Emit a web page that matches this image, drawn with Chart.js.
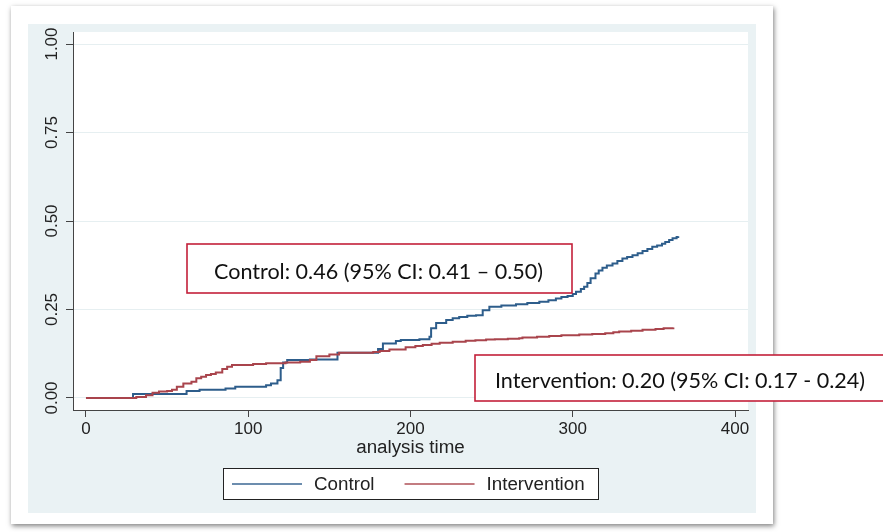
<!DOCTYPE html>
<html>
<head>
<meta charset="utf-8">
<script src="https://cdn.jsdelivr.net/npm/chart.js@4.4.1/dist/chart.umd.min.js"></script>
<style>
  html, body { margin: 0; padding: 0; background: #fff; }
  #wrap { width: 883px; height: 532px; }
</style>
</head>
<body>
<div id="wrap"><canvas id="km" width="883" height="532"></canvas></div>
<script>
// Kaplan-Meier failure curves
const seriesNames = ["Control", "Intervention"];
const controlTime = [0, 29, 62, 70, 86, 92, 111, 114, 118, 120, 121.5, 124, 138, 155, 180, 183, 191, 194, 205.5, 211.7,
  212.7, 215.8, 222, 226, 230, 235, 240.4, 244.5, 248.6, 256, 265, 272, 279.4, 285, 289.6, 293, 296.8, 300, 302, 305,
  307, 309, 311, 314, 316, 318.3, 321, 324.5, 327.5, 330.6, 333.5, 336.8, 340, 343, 346, 349, 352, 355, 357, 359.4,
  361.5, 364, 365];
const controlValue = [0, 0.011, 0.020, 0.023, 0.027, 0.032, 0.036, 0.041, 0.050, 0.085, 0.100, 0.107, 0.109, 0.128, 0.138, 0.154, 0.161, 0.164, 0.166, 0.173,
  0.197, 0.212, 0.220, 0.225, 0.229, 0.232, 0.234, 0.248, 0.258, 0.261, 0.265, 0.268, 0.272, 0.276, 0.281, 0.285, 0.288, 0.294, 0.300, 0.308,
  0.314, 0.325, 0.338, 0.352, 0.360, 0.368, 0.374, 0.380, 0.387, 0.394, 0.398, 0.403, 0.409, 0.415, 0.421, 0.427, 0.431, 0.436, 0.441, 0.446,
  0.451, 0.455, 0.457];
const interventionTime = [0, 31, 37, 41, 45, 50, 53, 56, 60, 65, 68, 71, 74, 77, 80, 84, 87, 90, 103, 111,
  123, 132, 138, 142, 150, 156, 177, 181, 187, 197, 203, 207.6, 213, 218, 226, 234, 240, 246.6, 252, 260,
  267, 269, 278, 285.5, 293, 304, 312, 320, 325, 328.6, 336, 343, 351, 356, 362];
const interventionValue = [0, 0.003, 0.008, 0.015, 0.018, 0.020, 0.023, 0.032, 0.041, 0.046, 0.056, 0.060, 0.065, 0.068, 0.072, 0.082, 0.088, 0.093, 0.096, 0.098,
  0.100, 0.102, 0.107, 0.118, 0.123, 0.128, 0.130, 0.133, 0.137, 0.143, 0.147, 0.150, 0.153, 0.156, 0.159, 0.162, 0.163, 0.165, 0.166, 0.167,
  0.169, 0.171, 0.173, 0.175, 0.177, 0.179, 0.181, 0.183, 0.186, 0.188, 0.190, 0.193, 0.195, 0.197, 0.199];
const xTicks = [0, 100, 200, 300, 400];
const yTicks = [0, 0.25, 0.5, 0.75, 1];
const yTickLabels = ["0.00", "0.25", "0.50", "0.75", "1.00"];
const xTitle = "analysis time";
const notes = ["Control: 0.46 (95% CI: 0.41 \u2013 0.50)", "Intervention: 0.20 (95% CI: 0.17 - 0.24)"];

const fontFamily = "'Liberation Sans', Arial, sans-serif";
const textFont = "18.8px " + fontFamily;

function toPoints(ts, vs) {
  return ts.map((t, i) => ({ x: t, y: vs[i] }));
}

//page frame, grey background and white plot region
const framePlugin = {
  id: "frame",
  beforeDraw(chart) {
    const ctx = chart.ctx;
    const a = chart.chartArea;
    ctx.save();
    ctx.fillStyle = "#fff";
    ctx.fillRect(0, 0, chart.width, chart.height);
    ctx.shadowColor = "rgba(0,0,0,0.5)";
    ctx.shadowBlur = 5;
    ctx.shadowOffsetX = 1;
    ctx.shadowOffsetY = 2;
    ctx.fillRect(11, 6, 762, 518);
    ctx.shadowColor = "transparent";
    ctx.fillStyle = "#eaf2f4";
    ctx.fillRect(28, 24, 728, 489);
    ctx.fillStyle = "#fff";
    ctx.fillRect(a.left, a.top, a.right - a.left, a.bottom - a.top);
    ctx.restore();
  },
  afterDraw(chart) {
    const ctx = chart.ctx;
    ctx.save();
    //legend box
    ctx.fillStyle = "#fff";
    ctx.fillRect(223, 468, 375, 31);
    ctx.strokeStyle = "#222";
    ctx.lineWidth = 1;
    ctx.strokeRect(223.5, 468.5, 375, 31);
    ctx.font = textFont;
    ctx.textBaseline = "middle";
    let lx = 232;
    chart.data.datasets.forEach((ds) => {
      ctx.strokeStyle = ds.borderColor;
      ctx.globalAlpha = 0.7;
      ctx.lineWidth = 2;
      ctx.beginPath();
      ctx.moveTo(lx, 484);
      ctx.lineTo(lx + 70, 484);
      ctx.stroke();
      ctx.globalAlpha = 1;
      ctx.fillStyle = "#222";
      ctx.fillText(ds.label, lx + 82, 485);
      lx += 82 + ctx.measureText(ds.label).width + 30;
    });

    //estimate boxes
    const fam = "Lato, 'Noto Sans', sans-serif";
    ctx.font = "24px " + fam;
    const size = 24 * 329 / ctx.measureText(notes[0]).width;
    ctx.font = size.toFixed(2) + "px " + fam;
    ctx.textBaseline = "alphabetic";
    const boxes = [
      { x: 187, y: 244, w: 385, h: 49, tx: 214, base: 279 },
      { x: 475, y: 355, w: 420, h: 46, tx: 495, base: 388 },
    ];
    boxes.forEach((b, i) => {
      ctx.fillStyle = "#fff";
      ctx.fillRect(b.x, b.y, b.w, b.h);
      ctx.strokeStyle = "#c3203a";
      ctx.lineWidth = 1.6;
      ctx.strokeRect(b.x, b.y, b.w, b.h);
      ctx.fillStyle = "#111";
      ctx.fillText(notes[i], b.tx, b.base);
    });
    ctx.restore();
  },
};

new Chart(document.getElementById("km"), {
  type: "line",
  plugins: [framePlugin],
  data: {
    datasets: [
      {
        label: seriesNames[0],
        data: toPoints(controlTime, controlValue),
        borderColor: "#2d5d8b",
        backgroundColor: "#2d5d8b",
        borderWidth: 2,
        pointRadius: 0,
        stepped: true,
        order: 1,
      },
      {
        label: seriesNames[1],
        data: toPoints(interventionTime, interventionValue),
        borderColor: "#a9444c",
        backgroundColor: "#a9444c",
        borderWidth: 2,
        pointRadius: 0,
        stepped: true,
        order: 0,
      },
    ],
  },
  options: {
    responsive: false,
    animation: false,
    layout: { padding: { left: 28, top: 32, right: 135, bottom: 72 } },
    plugins: {
      legend: { display: false },
      tooltip: { enabled: false },
    },
    scales: {
      x: {
        type: "linear",
        min: -8,
        max: 408,
        afterBuildTicks: (s) => { s.ticks = xTicks.map((v) => ({ value: v })); },
        afterFit: (s) => { s.height = 50; },
        grid: { drawOnChartArea: false, drawTicks: true, tickLength: 7, tickColor: "#444" },
        border: { display: true, color: "#444", width: 1 },
        ticks: { font: { family: fontFamily, size: 17 }, color: "#222", padding: 2, maxRotation: 0 },
        title: { display: true, text: xTitle, font: { family: fontFamily, size: 18.8 }, color: "#222", padding: { top: 0, bottom: 1 } },
      },
      y: {
        type: "linear",
        min: -0.034,
        max: 1.034,
        afterBuildTicks: (s) => { s.ticks = yTicks.map((v) => ({ value: v })); },
        afterFit: (s) => { s.width = 45; },
        grid: { color: "#e6eff1", lineWidth: 1, drawTicks: true, tickLength: 7, tickColor: "#444" },
        border: { display: true, color: "#444", width: 1 },
        ticks: {
          font: { family: fontFamily, size: 17 },
          color: "#222",
          minRotation: 90,
          maxRotation: 90,
          crossAlign: "center",
          padding: -3,
          callback: (v, i) => yTickLabels[i],
        },
      },
    },
  },
});
</script>
</body>
</html>
